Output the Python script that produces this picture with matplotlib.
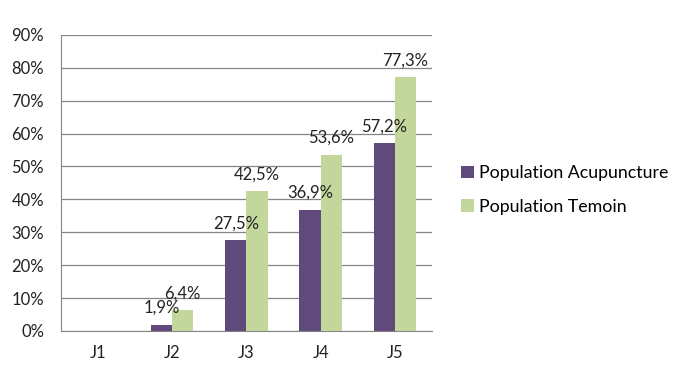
import matplotlib
matplotlib.use("Agg")
from matplotlib import pyplot as plt
import numpy as np

plt.rcParams['font.family'] = ['Lato', 'DejaVu Sans']

# data
days = ["J1", "J2", "J3", "J4", "J5"]
acupuncture = [0.0, 1.9, 27.5, 36.9, 57.2]
temoin = [0.0, 6.4, 42.5, 53.6, 77.3]
series_names = ["Population Acupuncture", "Population Temoin"]

PURPLE = "#604A7B"
GREEN = "#C3D69B"
GRID = "#868686"

fig = plt.figure(figsize=(6.76, 3.76), dpi=100)
ax = fig.add_axes([0.090, 0.120, 0.549, 0.787])

x = np.arange(len(days))
w = 0.285
b1 = ax.bar(x - w / 2, acupuncture, w, color=PURPLE, label=series_names[0], zorder=3)
b2 = ax.bar(x + w / 2, temoin, w, color=GREEN, label=series_names[1], zorder=3)

# value labels, skipping the empty J1 bars
for bars, vals in ((b1, acupuncture), (b2, temoin)):
    for rect, v in zip(bars, vals):
        if v <= 0:
            continue
        ax.text(rect.get_x() + rect.get_width() / 2, v + 2.6,
                ("%.1f%%" % v).replace(".", ","),
                ha="center", va="bottom", fontsize=12, color="#222222")

ax.set_xlim(-0.5, len(days) - 0.5)
ax.set_ylim(0, 90)
ax.set_yticks(np.arange(0, 91, 10))
ax.set_yticklabels(["%d%%" % t for t in range(0, 91, 10)])
ax.set_xticks(x)
ax.set_xticklabels(days)
ax.tick_params(axis="both", length=0, labelsize=12, colors="#222222")
ax.tick_params(axis="y", pad=12)
ax.tick_params(axis="x", pad=10)

ax.grid(axis="y", color=GRID, linewidth=0.9, zorder=0)
for side in ("top", "right"):
    ax.spines[side].set_visible(False)
ax.spines["left"].set_color(GRID)
ax.spines["bottom"].set_color(GRID)

fig.legend(handles=[b1, b2], loc="center left", bbox_to_anchor=(0.672, 0.495),
           frameon=False, fontsize=12.8, handlelength=0.7, handleheight=0.7,
           handletextpad=0.3, labelspacing=1.0, borderaxespad=0)

fig.savefig("out.png", dpi=100)
